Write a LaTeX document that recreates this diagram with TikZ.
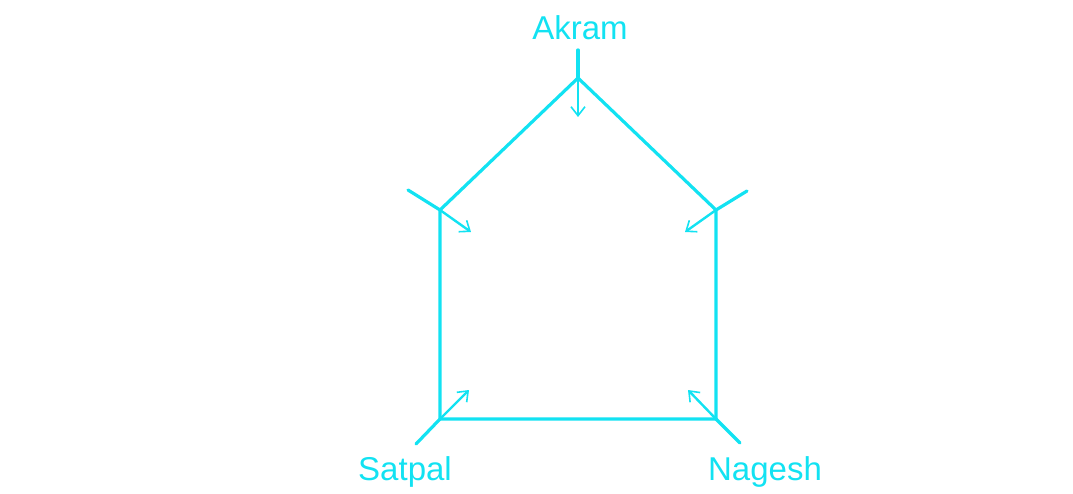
\documentclass[tikz,border=0pt]{standalone}
\usepackage{fontspec}
\setmainfont{Liberation Sans}
\usetikzlibrary{arrows.meta}
\definecolor{cy}{RGB}{18,226,242}
\begin{document}
\begin{tikzpicture}[x=1pt,y=-1pt,
  edge/.style={draw=cy,line width=3.2pt,line cap=round,line join=round},
  arr/.style={draw=cy,line width=2.4pt,-{Straight Barb[length=9pt,width=14pt,line width=1.6pt]}},
  lbl/.style={text=cy,font=\fontsize{33}{38}\selectfont,inner sep=0pt}]
\useasboundingbox (0,0) rectangle (1073,494);
% vertices
\coordinate (T) at (578,78);
\coordinate (UL) at (440,210);
\coordinate (UR) at (716,210);
\coordinate (BL) at (440,419);
\coordinate (BR) at (716,419);
% extension ends
\coordinate (Te) at (578,50);
\coordinate (ULe) at (408,190);
\coordinate (URe) at (747,191);
\coordinate (BLe) at (416,444);
\coordinate (BRe) at (740,443);
% arrow tips
\coordinate (Ta) at (578,117);
\coordinate (ULa) at (471,232);
\coordinate (URa) at (685,232);
\coordinate (BLa) at (469,390);
\coordinate (BRa) at (688,390);
% pentagon
\path[edge] (T) -- (UR) -- (BR) -- (BL) -- (UL) -- cycle;
% extensions
\path[edge] (T) -- (Te);
\path[edge] (UL) -- (ULe);
\path[edge] (UR) -- (URe);
\path[edge] (BL) -- (BLe);
\path[edge] (BR) -- (BRe);
% arrows
\path[arr] (T) -- (Ta);
\path[arr] (UL) -- (ULa);
\path[arr] (UR) -- (URa);
\path[arr] (BL) -- (BLa);
\path[arr] (BR) -- (BRa);
% labels
\node[lbl] (akram) at (580,28) {Akram};
\node[lbl] (satpal) at (405,472) {Satpal};
\node[lbl] (nagesh) at (765,472) {Nagesh};
\end{tikzpicture}
\end{document}
